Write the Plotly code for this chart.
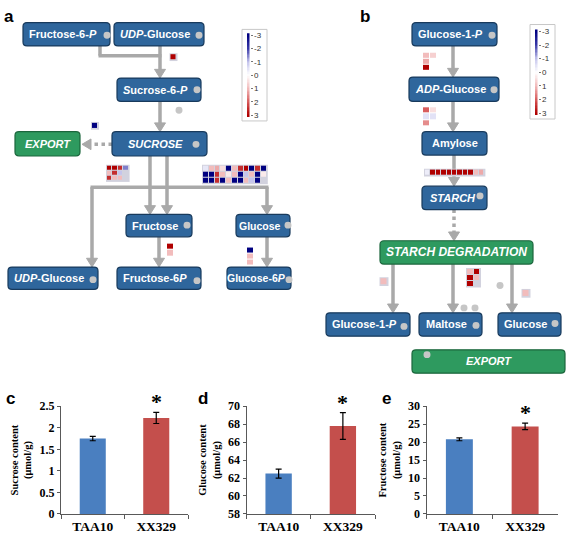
import numpy as np
import plotly.graph_objects as go

W, H = 567, 536

# ---------------- data: metabolite contents (panels c-e) ----------------
GENOTYPES = ["TAA10", "XX329"]
SUCROSE = [1.75, 2.23]
SUCROSE_ERR = [0.05, 0.13]
GLUCOSE = [62.5, 67.8]
GLUCOSE_ERR = [0.5, 1.5]
FRUCTOSE = [20.8, 24.4]
FRUCTOSE_ERR = [0.4, 0.9]
BAR_COLORS = ["#4a7fc0", "#c44f4c"]

# ---------------- data: gene expression heatmaps (log2 fold change) ----------------
N = None
HM_SPS = [[3]]                                   # UDP-Glucose -> Sucrose-6-P
HM_EXPORT = [[-3]]                               # Sucrose export
HM_SUS = [[3, 3, 2.5, -1.5],
          [1, 2.5, -1, N],
          [2.5, 1, 1, N]]                        # sucrose synthase
HM_INV = [[-0.4, 1, 1.2, 0.5, -3, 1, 2.5, 3, -3, 2.5, -3],
          [-3, -3, 2.5, 1, 0.3, 1, -3, -1, 1, -3, 0.3],
          [-3, -3, 2.5, -3, 1, -3, -3, 1, -1, -3, N]]   # invertases
HM_FRK = [[3], [1]]
HM_HXK = [[-3], [1], [1]]
HM_PGM = [[1, 0.7], [1.2, N], [3, N]]
HM_AGP = [[2, 0.5], [-0.5, -0.5], [1.5, N]]
HM_SS = [[-0.3, 3, 3, 3, 3, 3, 3, 3, 3, 1, 1.2]]
HM_PHO = [[1]]
HM_BAM = [[1, 3], [3, 1], [3, N]]
HM_GLC = [[1]]
LEGEND_TICKS = [-3, -2, -1, 0, 1, 2, 3]

CS = [[0, "#000080"], [1 / 6, "#3a3aa8"], [1 / 3, "#c4c4ec"], [0.5, "#ffffff"],
      [2 / 3, "#f2bcbc"], [5 / 6, "#d85c5c"], [1, "#b00000"]]

BOX_BLUE, BOX_BLUE_LINE = "#2f669c", "#183a5c"
BOX_GREEN, BOX_GREEN_LINE = "#2e9a5f", "#1b663c"
GRAY = "#a9a9a9"
DOT = "#c6c6c6"
AX = "#595959"
SANS = "Liberation Sans, Arial, sans-serif"
SERIF = "Liberation Serif, Times New Roman, serif"

fig = go.Figure()
shapes, annots = [], []


def rrect(x0, y0, x1, y1, fill, line, r=4):
    p = (f"M{x0+r},{y0} L{x1-r},{y0} Q{x1},{y0} {x1},{y0+r} L{x1},{y1-r} Q{x1},{y1} {x1-r},{y1} "
         f"L{x0+r},{y1} Q{x0},{y1} {x0},{y1-r} L{x0},{y0+r} Q{x0},{y0} {x0+r},{y0} Z")
    shapes.append(dict(type="path", path=p, xref="x", yref="y", fillcolor=fill,
                       line=dict(color=line, width=1.2), layer="below"))


def box(x0, x1, y0, y1, text, green=False, size=11, shift=-4):
    if green:
        rrect(x0, y0, x1, y1, BOX_GREEN, BOX_GREEN_LINE)
    else:
        rrect(x0, y0, x1, y1, BOX_BLUE, BOX_BLUE_LINE)
    annots.append(dict(x=(x0 + x1) / 2 + shift, y=(y0 + y1) / 2, xref="x", yref="y",
                       text=f"<b>{text}</b>", showarrow=False,
                       font=dict(family=SANS, size=size, color="white")))


def dot(cx, cy, r=3.5):
    shapes.append(dict(type="circle", xref="x", yref="y", x0=cx - r, x1=cx + r, y0=cy - r, y1=cy + r,
                       fillcolor=DOT, line=dict(width=0), layer="below"))


def seg(x0, y0, x1, y1, dash="solid"):
    shapes.append(dict(type="line", xref="x", yref="y", x0=x0, y0=y0, x1=x1, y1=y1,
                       line=dict(color=GRAY, width=3.5, dash=dash), layer="below"))


def head_down(x, ytip):
    shapes.append(dict(type="path", xref="x", yref="y",
                       path=f"M{x-5.5},{ytip-9} L{x+5.5},{ytip-9} L{x},{ytip} Z",
                       fillcolor=GRAY, line=dict(color=GRAY, width=1), layer="below"))


def head_left(xtip, y):
    shapes.append(dict(type="path", xref="x", yref="y",
                       path=f"M{xtip+9},{y-5.5} L{xtip+9},{y+5.5} L{xtip},{y} Z",
                       fillcolor=GRAY, line=dict(color=GRAY, width=1), layer="below"))


def arrow_down(x, y0, ytip, dash="solid"):
    seg(x, y0, x, ytip - 6, dash)
    head_down(x, ytip)


def hm(z, left, top, cw, ch, frame=True):
    z = np.array(z, dtype=float)
    nr, nc = z.shape
    if frame:
        shapes.append(dict(type="rect", xref="x", yref="y", x0=left - 1, x1=left + nc * cw + 1,
                           y0=top - 1, y1=top + nr * ch + 1, fillcolor="#d2d2de",
                           line=dict(width=0), layer="below"))
    fig.add_trace(go.Heatmap(z=z, x0=left + cw / 2, dx=cw, y0=top + ch / 2, dy=ch,
                             colorscale=CS, zmin=-3, zmax=3, showscale=False,
                             xgap=1, ygap=1, xaxis="x", yaxis="y", hoverinfo="skip"))


# ======================= panel a =======================
annots.append(dict(x=2, y=10, xref="x", yref="y", text="<b>a</b>", showarrow=False,
                   xanchor="left", font=dict(family=SANS, size=17, color="black")))
# connectors
seg(100, 40, 100, 50)
seg(98.5, 50, 161.5, 50)
arrow_down(160, 40, 73)
arrow_down(160, 97, 128)
seg(112, 141, 92, 141, dash="dot")
head_left(82, 141)
arrow_down(150, 153, 213)
arrow_down(167, 153, 213)
seg(90.5, 185, 268.5, 185)
arrow_down(92, 185, 267)
arrow_down(267, 185, 213)
arrow_down(159, 236, 267)
arrow_down(267, 236, 267)

box(23, 110, 16, 40, "Fructose-6-<i>P</i>")
box(114, 204, 16, 40, "<i>UDP</i>-Glucose")
box(117, 201, 73, 97, "<i>S</i>ucrose-6-<i>P</i>")
box(112, 207, 128, 153, "<i>SUCROSE</i>")
box(15, 80, 128, 153, "<i>EXPORT</i>", green=True, shift=0)
box(126, 192, 213, 236, "Fructose")
box(236, 290, 213, 236, "Glucose", shift=-3, size=10.5)
box(8, 98, 267, 290, "<i>UDP</i>-Glucose")
box(117, 201, 267, 290, "Fructose-6<i>P</i>")
box(227, 291, 267, 290, "Glucose-6<i>P</i>", shift=-3, size=10.5)
for cx, cy in [(107, 29), (199, 29), (197, 85), (196, 141), (187, 224), (288, 224),
               (93, 280), (197, 281), (289, 280), (179, 106)]:
    dot(cx, cy)

hm(HM_SPS, 170.5, 48.5, 6, 6)
hm(HM_EXPORT, 92, 119, 6, 6)
hm(HM_SUS, 107, 163, 5.4, 5.2)
hm(HM_INV, 203, 163, 5.8, 6)
hm(HM_FRK, 167, 243, 6.5, 6.5, frame=False)
hm(HM_HXK, 247, 247, 7, 6, frame=False)

# legend box a
shapes.append(dict(type="rect", xref="x", yref="y", x0=242, x1=267, y0=23, y1=117,
                   fillcolor="white", line=dict(color="#c8c8c8", width=1), layer="below"))

# ======================= panel b =======================
annots.append(dict(x=358, y=10, xref="x", yref="y", text="<b>b</b>", showarrow=False,
                   xanchor="left", font=dict(family=SANS, size=17, color="black")))
arrow_down(453, 40, 72)
arrow_down(453, 97, 128)
arrow_down(454, 152, 184)
arrow_down(454, 208, 240, dash="dot")
arrow_down(393, 264, 314)
arrow_down(453, 264, 314)
arrow_down(512, 264, 314)

box(412, 497, 16, 40, "Glucose-1-<i>P</i>")
box(409, 499, 72, 97, "<i>ADP</i>-Glucose")
box(422, 487, 128, 152, "Amylose", shift=0)
box(422, 487, 184, 208, "<i>STARCH</i>", shift=-2)
box(380, 533, 240, 264, "<i>STARCH DEGRADATION</i>", green=True, size=12, shift=0)
box(326, 410, 314, 338, "Glucose-1-<i>P</i>")
box(419, 482, 314, 338, "Maltose")
box(498, 561, 314, 338, "Glucose")
box(412, 565, 352, 376, "<i>EXPORT</i>", green=True, shift=0)
for cx, cy in [(492, 29), (494, 85), (480, 194), (404, 328), (476, 327), (555, 325),
               (427, 357), (500, 286), (464, 309), (475, 309)]:
    dot(cx, cy)

hm(HM_PGM, 423, 47, 7, 6.3, frame=False)
hm(HM_AGP, 423, 103, 7, 6.5, frame=False)
hm(HM_SS, 425, 167, 5.4, 6)
hm(HM_PHO, 380.5, 278.5, 7, 7)
hm(HM_BAM, 467, 269, 6.5, 6)
hm(HM_GLC, 522.5, 290.5, 7, 7)

shapes.append(dict(type="rect", xref="x", yref="y", x0=530, x1=555, y0=18, y1=115,
                   fillcolor="white", line=dict(color="#c8c8c8", width=1), layer="below"))

# ======================= legends (colour key) =======================
grad = np.linspace(-3.15, 3.15, 64)


def legend_axes(n, xpx, ytop, ybot):
    fig.add_trace(go.Heatmap(z=grad.reshape(-1, 1), x=[0], y=grad, colorscale=CS, zmin=-3, zmax=3,
                             showscale=False, xaxis=f"x{n}", yaxis=f"y{n}", hoverinfo="skip"))
    return (dict(domain=[xpx / W, (xpx + 2.5) / W], anchor=f"y{n}", visible=False, range=[-0.5, 0.5],
                 fixedrange=True),
            dict(domain=[1 - ybot / H, 1 - ytop / H], anchor=f"x{n}", range=[3.15, -3.15], side="right",
                 tickvals=LEGEND_TICKS, ticktext=[str(t) for t in LEGEND_TICKS], ticks="outside",
                 ticklen=2, tickcolor="#777", showgrid=False, zeroline=False, showline=False,
                 tickfont=dict(family=SANS, size=8, color="#333"), fixedrange=True))


# ======================= bar charts =======================
bar_specs = [
    (2, 61, 188, SUCROSE, SUCROSE_ERR, [0, 2.5], 0.5, "Sucrose content<br>(μmol/g)", "c", 4),
    (3, 246.5, 375, GLUCOSE, GLUCOSE_ERR, [58, 70], 2, "Glucose content<br>(μmol/g)", "d", 196),
    (4, 426.5, 558, FRUCTOSE, FRUCTOSE_ERR, [0, 30], 5, "Fructose content<br>(μmol/g)", "e", 380),
]

layout_axes = {}
TFY = dict(family=SERIF, size=12, color="black", weight="bold")
TFX = dict(family=SERIF, size=13.5, color="black", weight="bold")
for n, xl, xr, vals, errs, rng, dt, title, lab, labx in bar_specs:
    fig.add_trace(go.Bar(x=GENOTYPES, y=vals, marker=dict(color=BAR_COLORS, line=dict(width=0)),
                         error_y=dict(type="data", array=errs, color="black", thickness=1.2, width=3),
                         xaxis=f"x{n}", yaxis=f"y{n}", showlegend=False))
    layout_axes[f"xaxis{n}"] = dict(domain=[xl / W, xr / W], anchor=f"y{n}", type="category",
                                    tickson="boundaries", ticks="outside", ticklen=4, showline=True,
                                    linecolor=AX, tickcolor=AX, tickfont=TFX, fixedrange=True)
    layout_axes[f"yaxis{n}"] = dict(domain=[1 - 520.5 / H, 1 - 410 / H], anchor=f"x{n}", range=rng,
                                    dtick=dt, showline=True, linecolor=AX, ticks="outside", ticklen=3,
                                    tickcolor=AX, showgrid=False, zeroline=False, tickfont=TFY,
                                    title=dict(text=title, standoff=5,
                                               font=dict(family=SERIF, size=10.5, color="black",
                                                         weight="bold")),
                                    fixedrange=True)
    annots.append(dict(x=GENOTYPES[1], y=vals[1] + errs[1], xref=f"x{n}", yref=f"y{n}", text="<b>*</b>",
                       showarrow=False, yanchor="bottom", yshift=-4,
                       font=dict(family=SERIF, size=22, color="black")))
    annots.append(dict(x=labx, y=402, xref="x", yref="y", text=f"<b>{lab}</b>", showarrow=False,
                       xanchor="left", font=dict(family=SANS, size=17, color="black")))

xa5, ya5 = legend_axes(5, 247, 27, 113)
xa6, ya6 = legend_axes(6, 535, 23, 111)

fig.update_layout(
    width=W, height=H, autosize=False,
    margin=dict(l=0, r=0, t=0, b=0),
    paper_bgcolor="white", plot_bgcolor="rgba(0,0,0,0)",
    showlegend=False, bargap=0.59,
    xaxis=dict(domain=[0, 1], range=[0, W], visible=False, fixedrange=True),
    yaxis=dict(domain=[0, 1], range=[H, 0], visible=False, fixedrange=True),
    xaxis5=xa5, yaxis5=ya5, xaxis6=xa6, yaxis6=ya6,
    shapes=shapes, annotations=annots,
    **layout_axes,
)

fig.write_html("out.html", config={"displayModeBar": False},
               post_script="document.body.style.margin='0';")
